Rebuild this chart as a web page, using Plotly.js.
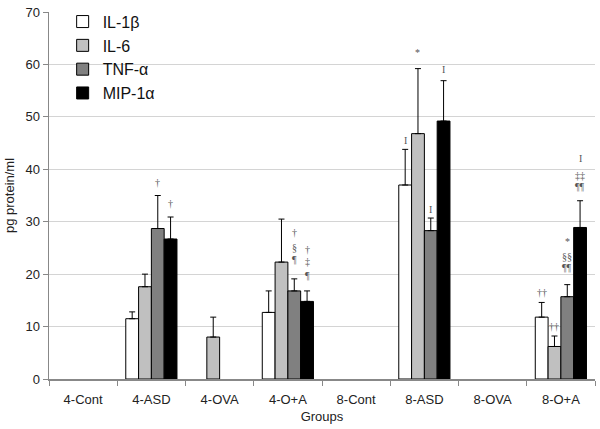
<!DOCTYPE html>
<html>
<head>
<meta charset="utf-8">
<script src="https://cdn.plot.ly/plotly-3.0.1.min.js"></script>
<style>html,body{margin:0;padding:0;background:#fff;}#chart{width:600px;height:429px;}</style>
</head>
<body>
<div id="chart"></div>
<script>
const categories = ["4-Cont","4-ASD","4-OVA","4-O+A","8-Cont","8-ASD","8-OVA","8-O+A"];
const seriesNames = ["IL-1β","IL-6","TNF-α","MIP-1α"];
const il1b = [null, 11.5, null, 12.7, null, 37.0, null, 11.8];
const il6  = [null, 17.6, 8.0, 22.3, null, 46.8, null, 6.2];
const tnf  = [null, 28.7, null, 16.8, null, 28.3, null, 15.7];
const mip  = [null, 26.7, null, 14.8, null, 49.2, null, 28.9];
const il1bErr = [null, 1.3, null, 4.1, null, 6.8, null, 2.8];
const il6Err  = [null, 2.4, 3.8, 8.2, null, 12.4, null, 2.0];
const tnfErr  = [null, 6.3, null, 2.3, null, 2.4, null, 2.3];
const mipErr  = [null, 4.2, null, 2.0, null, 7.7, null, 5.1];
// significance marks: [category index, series index, y value, text]
const markCat    = [1, 1, 3, 3, 3, 3, 3, 3, 5, 5, 5, 5, 7, 7, 7, 7, 7, 7, 7, 7];
const markSeries = [2, 3, 2, 2, 2, 3, 3, 3, 0, 1, 2, 3, 0, 1, 2, 2, 2, 3, 3, 3];
const markY      = [37.5, 33.5, 28.0, 25.0, 22.8, 24.7, 22.5, 19.8, 45.5, 62.2, 32.4, 59.0, 16.5, 10.1, 26.2, 23.4, 21.3, 42.0, 38.8, 36.7];
const markText   = ["†","†","†","§","¶","†","‡","¶","I","*","I","I","††","††","*","§§","¶¶","I","‡‡","¶¶"];

const values = [il1b, il6, tnf, mip];
const errs = [il1bErr, il6Err, tnfErr, mipErr];
const fills = ["#ffffff","#c0c0c0","#808080","#000000"];

const traces = values.map((v, i) => ({
  type: "bar",
  name: seriesNames[i],
  x: categories,
  y: v,
  marker: {color: fills[i], line: {color: "#000000", width: 1}},
  error_y: {type: "data", array: errs[i], arrayminus: errs[i].map(e => 0), symmetric: false,
            color: "#000000", thickness: 1, width: 3}
}));

const bargap = 0.25;
const barW = (1 - bargap) / 4;
const annotations = markText.map((t, k) => ({
  x: markCat[k] + (markSeries[k] - 1.5) * barW,
  y: markY[k],
  xref: "x", yref: "y",
  text: t,
  showarrow: false,
  font: {family: "Liberation Serif, serif", size: 10, color: "#555555"},
  xanchor: "center", yanchor: "middle"
}));

const layout = {
  width: 600, height: 429,
  margin: {l: 49, r: 5, t: 5, b: 50},
  paper_bgcolor: "#ffffff", plot_bgcolor: "#ffffff",
  barmode: "group", bargap: bargap, bargroupgap: 0,
  font: {family: "Liberation Sans, Arial, sans-serif", size: 12, color: "#222222"},
  showlegend: true,
  legend: {x: 0.025, y: 1.02, xanchor: "left", yanchor: "top", bgcolor: "rgba(0,0,0,0)",
           font: {size: 16, color: "#111111"}, itemwidth: 30, tracegroupgap: 0},
  xaxis: {
    type: "category", tickson: "boundaries", ticks: "outside", ticklen: 5, tickcolor: "#888888",
    showline: true, linecolor: "#888888", linewidth: 1.5, showgrid: false,
    tickfont: {size: 13}, ticklabelstandoff: 8,
    title: {text: "Groups", font: {size: 13}, standoff: 6}
  },
  yaxis: {
    range: [0, 70], dtick: 10, ticks: "outside", ticklen: 5, tickcolor: "#888888",
    showline: true, linecolor: "#888888", linewidth: 1.5, ticklabeloverflow: "allow",
    showgrid: true, gridcolor: "#d4d4d4", gridwidth: 1, zeroline: false,
    tickfont: {size: 13},
    title: {text: "pg protein/ml", font: {size: 13}, standoff: 8}
  },
  annotations: annotations
};

Plotly.newPlot("chart", traces, layout, {staticPlot: true, displayModeBar: false});
</script>
</body>
</html>
